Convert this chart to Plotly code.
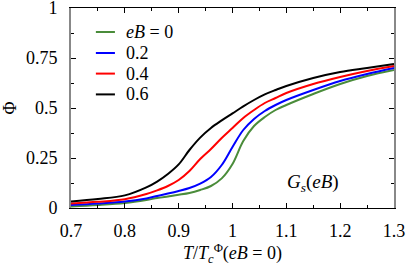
import plotly.graph_objects as go

x = [0.70, 0.75, 0.80, 0.84, 0.86, 0.88, 0.90, 0.92, 0.94, 0.96, 0.98, 1.00,
     1.02, 1.04, 1.06, 1.08, 1.10, 1.15, 1.20, 1.25, 1.30]

phi_eB0 = [0.008, 0.015, 0.025, 0.040, 0.050, 0.058, 0.066, 0.075, 0.090, 0.110, 0.148, 0.220,
           0.335, 0.410, 0.455, 0.490, 0.515, 0.570, 0.620, 0.660, 0.690]
phi_eB02 = [0.015, 0.022, 0.032, 0.048, 0.060, 0.072, 0.085, 0.100, 0.122, 0.155, 0.215, 0.305,
            0.390, 0.445, 0.485, 0.515, 0.540, 0.590, 0.635, 0.670, 0.700]
phi_eB04 = [0.023, 0.031, 0.044, 0.070, 0.088, 0.110, 0.140, 0.185, 0.245, 0.295, 0.350, 0.400,
            0.450, 0.490, 0.525, 0.550, 0.575, 0.620, 0.655, 0.685, 0.710]
phi_eB06 = [0.033, 0.045, 0.063, 0.103, 0.132, 0.170, 0.218, 0.290, 0.352, 0.400, 0.438, 0.473,
            0.508, 0.540, 0.568, 0.590, 0.610, 0.650, 0.680, 0.700, 0.720]

series_names = ["<i>eB</i> = 0", "0.2", "0.4", "0.6"]
series_vals = [phi_eB0, phi_eB02, phi_eB04, phi_eB06]
colors = ["#4a8c3a", "#0000ff", "#ff0000", "#000000"]

x_tickvals = [0.7, 0.8, 0.9, 1.0, 1.1, 1.2, 1.3]
x_ticktext = ["0.7", "0.8", "0.9", "1", "1.1", "1.2", "1.3"]
y_tickvals = [0, 0.25, 0.5, 0.75, 1.0]
y_ticktext = ["0", "0.25", "0.5", "0.75", "1"]

FONT = "Liberation Serif, DejaVu Serif, Times New Roman, serif"

fig = go.Figure()
for name, vals, c in zip(series_names, series_vals, colors):
    fig.add_trace(go.Scatter(x=x, y=vals, mode="lines", name=name, showlegend=False,
                             line=dict(color=c, width=2, shape="spline", smoothing=1.0)))

# legend drawn in paper coordinates (top-left inside the frame)
leg_x0, leg_x1, leg_tx = 0.077, 0.136, 0.164
leg_y = [0.88, 0.775, 0.672, 0.568]
for name, c, yy in zip(series_names, colors, leg_y):
    fig.add_shape(type="line", xref="paper", yref="paper", x0=leg_x0, x1=leg_x1, y0=yy, y1=yy,
                  line=dict(color=c, width=2))
    fig.add_annotation(xref="paper", yref="paper", x=leg_tx, y=yy, text=name, showarrow=False,
                       xanchor="left", yanchor="middle", font=dict(family=FONT, size=18, color="black"))

fig.update_layout(
    width=407, height=266,
    margin=dict(l=71, r=13, t=8, b=58, autoexpand=False),
    paper_bgcolor="white", plot_bgcolor="white",
    font=dict(family=FONT, size=18, color="black"),
    showlegend=False,
    xaxis=dict(range=[0.7, 1.3], tickvals=x_tickvals, ticktext=x_ticktext,
               ticks="inside", ticklen=5, tickcolor="black", tickwidth=1,
               showline=True, linecolor="black", linewidth=1, mirror="allticks",
               showgrid=False, zeroline=False, ticklabelstandoff=6, ticklabeloverflow="allow",
               minor=dict(dtick=0.05, tick0=0.7, ticks="inside", ticklen=3, tickcolor="black", showgrid=False),
               title=dict(text="<i>T</i>/<i>T</i><sub><i>c</i></sub><sup>Φ</sup>(<i>eB</i> = 0)",
                          font=dict(family=FONT, size=18), standoff=8)),
    yaxis=dict(range=[0, 1], tickvals=y_tickvals, ticktext=y_ticktext,
               ticks="inside", ticklen=5, tickcolor="black", tickwidth=1,
               showline=True, linecolor="#888888", linewidth=2, mirror="allticks",
               showgrid=False, zeroline=False, ticklabelstandoff=8, ticklabeloverflow="allow",
               minor=dict(dtick=0.125, tick0=0, ticks="inside", ticklen=3, tickcolor="black", showgrid=False),
               title=dict(text="Φ", font=dict(family=FONT, size=18), standoff=14)),
)

fig.add_annotation(x=1.15, y=0.125, xref="x", yref="y", showarrow=False,
                   text="<i>G<sub>s</sub></i>(<i>eB</i>)", font=dict(family=FONT, size=19))

fig.write_html("out.html", config={"displayModeBar": False})

with open("out.html", "r", encoding="utf-8") as f:
    html = f.read()
html = html.replace("<head>", "<head><style>html,body{margin:0;padding:0;overflow:hidden;}</style>", 1)
with open("out.html", "w", encoding="utf-8") as f:
    f.write(html)
